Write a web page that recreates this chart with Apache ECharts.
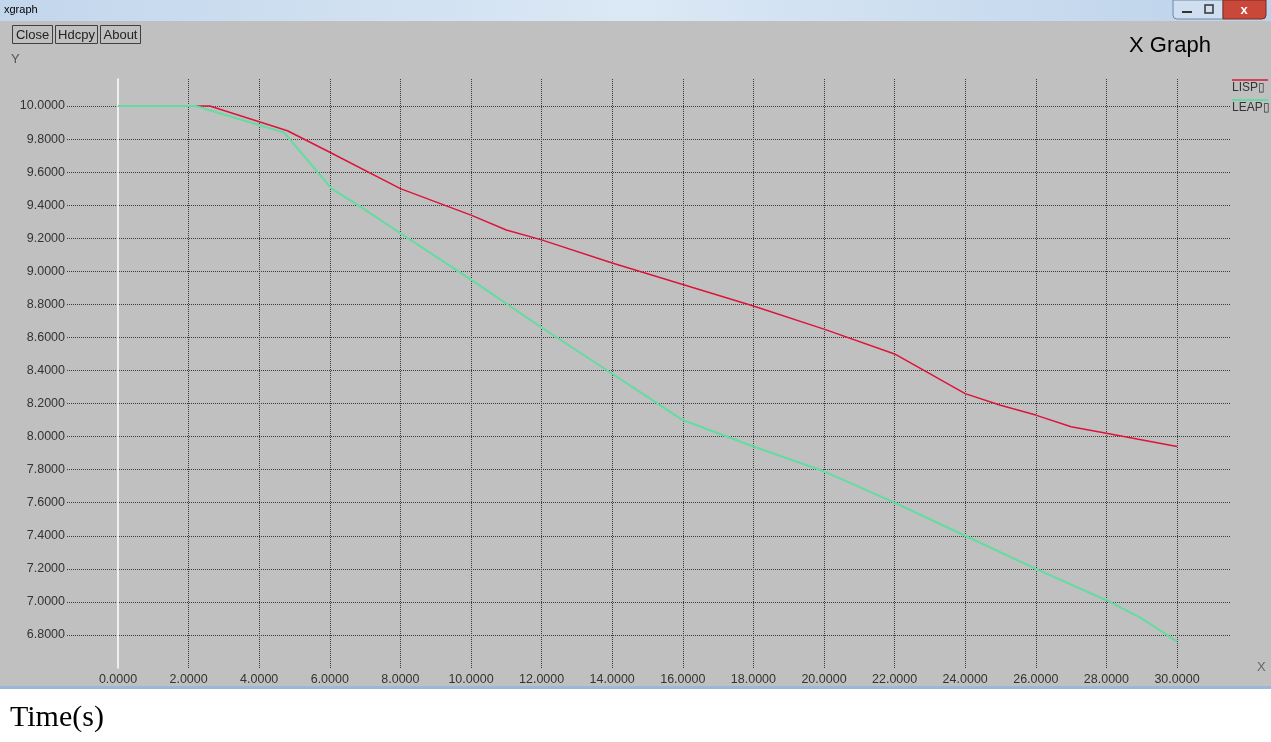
<!DOCTYPE html>
<html><head><meta charset="utf-8">
<script src="https://cdn.jsdelivr.net/npm/echarts@6/dist/echarts.min.js"></script>
<style>html,body{margin:0;padding:0;background:#fff}#c{width:1271px;height:742px}</style>
</head><body><div id="c"></div>
<script>
// ---- data ----
const lispX = [0, 2, 2.6, 4.8, 6, 8, 10, 11, 12, 14, 16, 18, 20, 22, 24, 25, 26, 27, 28, 30];
const lispY = [10, 10, 10, 9.85, 9.72, 9.5, 9.34, 9.25, 9.19, 9.05, 8.92, 8.79, 8.65, 8.50, 8.26, 8.19, 8.13, 8.06, 8.02, 7.94];
const leapX = [0, 2, 2.2, 4.7, 4.9, 6.05, 6.8, 8, 10, 12, 14, 16, 18, 20, 22, 24, 26, 28, 29, 30];
const leapY = [10, 10, 10, 9.84, 9.79, 9.50, 9.40, 9.23, 8.95, 8.66, 8.38, 8.10, 7.94, 7.79, 7.60, 7.40, 7.20, 7.01, 6.90, 6.76];
const seriesNames = ['LISP\u25AF', 'LEAP\u25AF'];
const xMin = 0, xMax = 30, xStep = 2;
const yMin = 6.6, yMax = 10.1633, yStep = 0.2;
const buttons = ['Close', 'Hdcpy', 'About'];

const F = 'Liberation Sans, Arial, sans-serif';
const fmt = v => Number(v).toFixed(4);
const zip = (a, b) => a.map((x, i) => [x, b[i]]);
const gridLine = { show: true, lineStyle: { type: [1, 1], color: '#3a3a3a', width: 1 } };

const chart = echarts.init(document.getElementById('c'), null, { renderer: 'canvas' });
const btnW = [40, 42, 40], btnX = [12, 55, 100];
const graphics = [
  { type: 'rect', z: -100, shape: { x: 0, y: 0, width: 1271, height: 21 },
    style: { fill: new echarts.graphic.LinearGradient(0, 0, 1, 0, [
      { offset: 0, color: '#c2d6ec' }, { offset: 0.5, color: '#dbe8f5' }, { offset: 1, color: '#bcd2ea' }]) } },
  { type: 'text', z: 10, style: { x: 4, y: 10, text: 'xgraph', font: '11px ' + F, fill: '#000', verticalAlign: 'middle' } },
  { type: 'rect', z: 10, shape: { x: 1173, y: 0, width: 50, height: 19, r: [0, 0, 0, 4] },
    style: { fill: '#d0dff0', stroke: '#6e8aa8', lineWidth: 1 } },
  { type: 'rect', z: 10, shape: { x: 1223, y: 0, width: 43, height: 19, r: [0, 0, 4, 0] },
    style: { fill: '#c9483a', stroke: '#7a2a22', lineWidth: 1 } },
  { type: 'line', z: 11, shape: { x1: 1182, y1: 12, x2: 1192, y2: 12 }, style: { stroke: '#333', lineWidth: 2 } },
  { type: 'rect', z: 11, shape: { x: 1205, y: 5, width: 8, height: 8 }, style: { fill: 'none', stroke: '#333', lineWidth: 1.5 } },
  { type: 'text', z: 11, style: { x: 1244, y: 10, text: 'x', font: 'bold 13px ' + F, fill: '#fff', align: 'center', verticalAlign: 'middle' } },
  { type: 'rect', z: -100, shape: { x: 0, y: 21, width: 1271, height: 665 }, style: { fill: '#c0c0c0' } },
  { type: 'rect', z: -99, shape: { x: 0, y: 686, width: 1271, height: 3 }, style: { fill: '#9ab8d8' } },
  { type: 'text', z: 10, style: { x: 11, y: 59, text: 'Y', font: '13px ' + F, fill: '#555', verticalAlign: 'middle' } },
  { type: 'text', z: 10, style: { x: 1257, y: 667, text: 'X', font: '13px ' + F, fill: '#666', verticalAlign: 'middle' } },
  { type: 'line', z: 10, shape: { x1: 1232, y1: 80, x2: 1268, y2: 80 }, style: { stroke: '#dc143c', lineWidth: 1.5 } },
  { type: 'text', z: 10, style: { x: 1232, y: 88, text: seriesNames[0], font: '12px ' + F, fill: '#333', verticalAlign: 'middle' } },
  { type: 'line', z: 10, shape: { x1: 1232, y1: 100, x2: 1268, y2: 100 }, style: { stroke: '#62dca0', lineWidth: 2 } },
  { type: 'text', z: 10, style: { x: 1232, y: 108, text: seriesNames[1], font: '12px ' + F, fill: '#333', verticalAlign: 'middle' } },
  { type: 'text', z: 10, style: { x: 10, y: 718, text: 'Time(s)', font: '30px Liberation Serif, Times New Roman, serif', fill: '#000', verticalAlign: 'middle' } }
];
buttons.forEach((b, i) => {
  graphics.push({ type: 'rect', z: 10, shape: { x: btnX[i] + 0.5, y: 25.5, width: btnW[i], height: 18 },
    style: { fill: '#c0c0c0', stroke: '#404040', lineWidth: 1 } });
  graphics.push({ type: 'text', z: 11, style: { x: btnX[i] + btnW[i] / 2 + 0.5, y: 35, text: b, font: '13px ' + F, fill: '#222', align: 'center', verticalAlign: 'middle' } });
});

chart.setOption({
  animation: false,
  backgroundColor: '#fff',
  title: { text: 'X Graph', left: 1124, top: 30, textStyle: { fontFamily: F, fontSize: 22, fontWeight: 'normal', color: '#000' } },
  graphic: graphics,
  grid: [
    { left: 118, right: 94, top: 79, bottom: 74 },
    { left: 67, right: 41, top: 79, bottom: 74 }
  ],
  xAxis: [
    { type: 'value', gridIndex: 0, min: xMin, max: xMax, interval: xStep,
      axisLine: { show: false }, axisTick: { show: false },
      axisLabel: { formatter: fmt, color: '#333', fontFamily: F, fontSize: 12.5, margin: 5 },
      splitLine: Object.assign({ showMinLine: false }, gridLine) },
    { type: 'value', gridIndex: 1, min: 0, max: 1, show: false }
  ],
  yAxis: [
    { type: 'value', gridIndex: 0, min: yMin, max: yMax, interval: yStep,
      axisLine: { show: true, lineStyle: { color: '#ffffff', width: 1.5 } }, axisTick: { show: false },
      axisLabel: { show: false }, splitLine: { show: false } },
    { type: 'value', gridIndex: 1, min: yMin, max: yMax, interval: yStep,
      axisLine: { show: false }, axisTick: { show: false },
      axisLabel: { formatter: fmt, color: '#333', fontFamily: F, fontSize: 12.5, margin: 2, showMinLabel: false, showMaxLabel: false },
      splitLine: Object.assign({ showMinLine: false, showMaxLine: false }, gridLine) }
  ],
  series: [
    { name: seriesNames[0], type: 'line', xAxisIndex: 0, yAxisIndex: 0, data: zip(lispX, lispY),
      showSymbol: false, lineStyle: { color: '#dc143c', width: 1.5 }, z: 3 },
    { name: seriesNames[1], type: 'line', xAxisIndex: 0, yAxisIndex: 0, data: zip(leapX, leapY),
      showSymbol: false, lineStyle: { color: '#62dca0', width: 2 }, z: 4 }
  ]
});
</script></body></html>
